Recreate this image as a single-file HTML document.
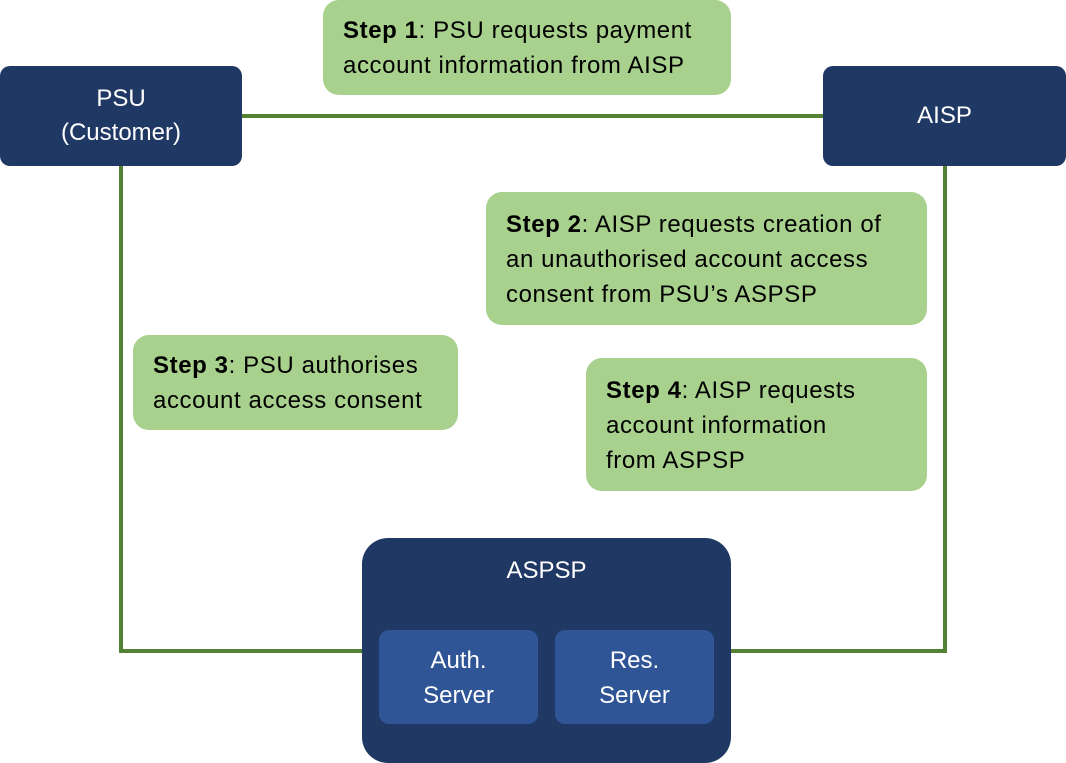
<!DOCTYPE html>
<html><head><meta charset="utf-8"><style>
body{margin:0;width:1066px;height:763px;background:#fff;position:relative;overflow:hidden;font-family:"Liberation Sans",sans-serif;}
.a{position:absolute;box-sizing:border-box;}
.navy{background:#203864;border-radius:10px;color:#fff;text-align:center;font-size:24px;}
.g{background:#a9d18e;border-radius:16px;color:#000;font-size:24px;line-height:35px;padding-left:20px;white-space:nowrap;letter-spacing:0.6px;}
.l{position:absolute;background:#548235;}
.s{background:#2f5597;border-radius:10px;color:#fff;text-align:center;font-size:24px;line-height:35px;}
</style></head><body>
<div class="l" style="left:242px;top:114px;width:581px;height:4px"></div>
<div class="l" style="left:119px;top:166px;width:4px;height:487px"></div>
<div class="l" style="left:119px;top:649px;width:245px;height:4px"></div>
<div class="l" style="left:943px;top:166px;width:4px;height:487px"></div>
<div class="l" style="left:729px;top:649px;width:218px;height:4px"></div>

<div class="a navy" style="left:0;top:66px;width:242px;height:100px;line-height:34px;padding-top:16px">PSU<br>(Customer)</div>
<div class="a navy" style="left:823px;top:66px;width:243px;height:100px;line-height:100px">AISP</div>

<div class="a g" style="left:323px;top:0;width:408px;height:95px;padding-top:13px"><b>Step 1</b>: PSU requests payment<br>account information from AISP</div>
<div class="a g" style="left:486px;top:192px;width:441px;height:133px;padding-top:15px"><b>Step 2</b>: AISP requests creation of<br>an unauthorised account access<br>consent from PSU’s ASPSP</div>
<div class="a g" style="left:133px;top:335px;width:325px;height:95px;padding-top:13px"><b>Step 3</b>: PSU authorises<br>account access consent</div>
<div class="a g" style="left:586px;top:358px;width:341px;height:133px;padding-top:15px"><b>Step 4</b>: AISP requests<br>account information<br>from ASPSP</div>

<div class="a navy" style="left:362px;top:538px;width:369px;height:225px;border-radius:26px;padding-top:18px;line-height:30px">ASPSP</div>
<div class="a s" style="left:379px;top:630px;width:159px;height:94px;padding-top:13px">Auth.<br>Server</div>
<div class="a s" style="left:555px;top:630px;width:159px;height:94px;padding-top:13px">Res.<br>Server</div>
</body></html>
